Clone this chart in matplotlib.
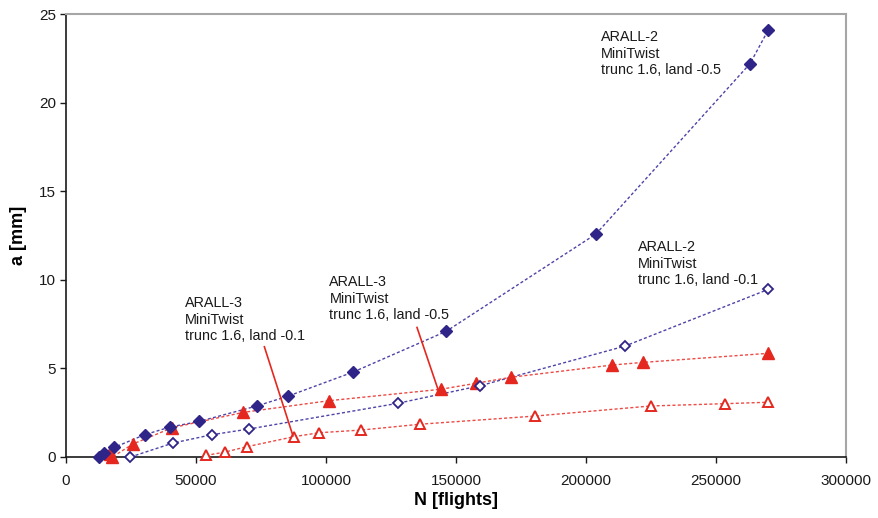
import numpy as np
import matplotlib.pyplot as plt

plt.rcParams['font.family'] = ['Liberation Sans', 'DejaVu Sans']

# ARALL-2, land -0.5 (filled diamonds)
n_a2_05 = [12800, 14500, 18500, 30300, 40000, 51300, 73400, 85500, 110400, 146200, 203800, 263100, 270100]
a_a2_05 = [0.0, 0.24, 0.54, 1.26, 1.69, 2.01, 2.88, 3.44, 4.79, 7.09, 12.58, 22.2, 24.1]

# ARALL-2, land -0.1 (open diamonds)
n_a2_01 = [24800, 41200, 56200, 70400, 127600, 159200, 215000, 270100]
a_a2_01 = [0.0, 0.79, 1.26, 1.58, 3.03, 4.02, 6.26, 9.46]

# ARALL-3, land -0.5 (filled triangles)
n_a3_05 = [16800, 17800, 25700, 40800, 68200, 101300, 144100, 157700, 171200, 210100, 222000, 270100]
a_a3_05 = [0.19, 0.0, 0.73, 1.65, 2.52, 3.18, 3.82, 4.16, 4.5, 5.19, 5.34, 5.85]

# ARALL-3, land -0.1 (open triangles)
n_a3_01 = [53900, 61200, 69500, 87800, 97400, 113500, 136200, 180400, 225000, 253600, 270100]
a_a3_01 = [0.09, 0.28, 0.58, 1.15, 1.37, 1.52, 1.85, 2.31, 2.88, 3.01, 3.09]

x_ticks = [0, 50000, 100000, 150000, 200000, 250000, 300000]
y_ticks = [0, 5, 10, 15, 20, 25]

blue = '#2f2588'
blue_line = '#4e44a8'
red = '#e4281f'
red_line = '#ec4a44'

fig = plt.figure(figsize=(8.79, 5.18), dpi=100)
ax = fig.add_axes([66/879, 61/518, 780/879, 443/518])

ls = (0, (2.2, 1.6))
ax.plot(n_a2_05, a_a2_05, color=blue_line, lw=1.0, ls=ls, zorder=2)
ax.plot(n_a2_01, a_a2_01, color=blue_line, lw=1.0, ls=ls, zorder=2)
ax.plot(n_a3_05, a_a3_05, color=red_line, lw=1.0, ls=ls, zorder=2)
ax.plot(n_a3_01, a_a3_01, color=red_line, lw=1.0, ls=ls, zorder=2)

ax.plot(n_a2_05, a_a2_05, ls='none', marker='D', ms=6.5, color=blue, mec=blue, zorder=4, clip_on=False)
ax.plot(n_a2_01, a_a2_01, ls='none', marker='D', ms=5.2, mfc='white', mec=blue, mew=1.3, zorder=4, clip_on=False)
ax.plot(n_a3_05, a_a3_05, ls='none', marker='^', ms=8, color=red, mec=red, zorder=3, clip_on=False)
ax.plot(n_a3_01, a_a3_01, ls='none', marker='^', ms=6.5, mfc='white', mec=red, mew=1.4, zorder=3, clip_on=False)

# callout lines
ax.plot([76300, 87300], [6.22, 1.19], color=red, lw=1.2, zorder=5)
ax.plot([135000, 143300], [7.31, 3.72], color=red, lw=1.2, zorder=5)

# va='baseline' puts the last line on the given y
txt = dict(fontsize=10.4, ha='left', va='baseline', linespacing=1.22, color='#1a1a1a')
ax.text(45800, 6.60, 'ARALL-3\nMiniTwist\ntrunc 1.6, land -0.1', **txt)
ax.text(101300, 7.77, 'ARALL-3\nMiniTwist\ntrunc 1.6, land -0.5', **txt)
ax.text(219900, 9.75, 'ARALL-2\nMiniTwist\ntrunc 1.6, land -0.1', **txt)
ax.text(205800, 21.61, 'ARALL-2\nMiniTwist\ntrunc 1.6, land -0.5', **txt)

ax.set_xlim(0, 300000)
ax.set_ylim(0, 25)
ax.set_xticks(x_ticks)
ax.set_xticklabels([str(v) for v in x_ticks])
ax.set_yticks(y_ticks)
ax.tick_params(direction='out', length=4, width=1, labelsize=11, colors='#1a1a1a', pad=3)
ax.tick_params(axis='x', pad=8)

for s in ['left', 'bottom']:
    ax.spines[s].set_color('#1a1a1a')
    ax.spines[s].set_linewidth(1.2)
for s in ['top', 'right']:
    ax.spines[s].set_color('#a6a6a6')
    ax.spines[s].set_linewidth(1.5)

ax.set_xlabel('N [flights]', fontsize=13, fontweight='bold', labelpad=3)
ax.set_ylabel('a [mm]', fontsize=13, fontweight='bold', labelpad=9)

fig.savefig('out.png', dpi=100)
